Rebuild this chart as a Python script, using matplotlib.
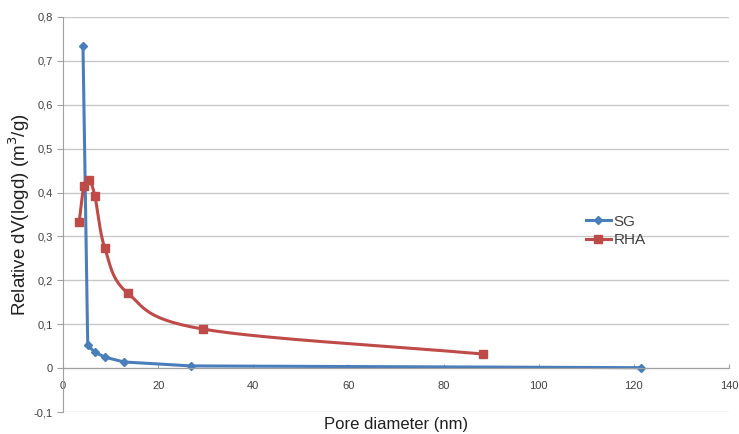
import numpy as np
import matplotlib.pyplot as plt

plt.rcParams['font.family'] = ['Liberation Sans', 'DejaVu Sans']

# values
sg_x = [4.2, 5.2, 6.7, 8.8, 12.8, 26.9, 121.5]
sg_y = [0.735, 0.052, 0.036, 0.025, 0.014, 0.005, 0.001]
rha_x = [3.4, 4.4, 5.5, 6.7, 8.8, 13.6, 29.4, 88.3]
rha_y = [0.333, 0.415, 0.428, 0.392, 0.273, 0.171, 0.089, 0.032]
y_ticks = [-0.1, 0, 0.1, 0.2, 0.3, 0.4, 0.5, 0.6, 0.7, 0.8]
x_ticks = [0, 20, 40, 60, 80, 100, 120, 140]


def smooth(x, y, n=30):
    # catmull-rom curve through the points, like excel's smoothed line
    x = np.asarray(x, float)
    y = np.asarray(y, float)
    px = np.concatenate([[2 * x[0] - x[1]], x, [2 * x[-1] - x[-2]]])
    py = np.concatenate([[2 * y[0] - y[1]], y, [2 * y[-1] - y[-2]]])
    ox, oy = [], []
    t = np.linspace(0, 1, n)
    for i in range(1, len(px) - 2):
        for p, o in ((px, ox), (py, oy)):
            p0, p1, p2, p3 = p[i - 1], p[i], p[i + 1], p[i + 2]
            m1 = (p2 - p0) / 6
            m2 = (p3 - p1) / 6
            c = ((1 - t) ** 3 * p1 + 3 * (1 - t) ** 2 * t * (p1 + m1)
                 + 3 * (1 - t) * t ** 2 * (p2 - m2) + t ** 3 * p2)
            o.extend(c)
    return ox, oy


blue = '#4a7ebb'
red = '#be4b48'

fig = plt.figure(figsize=(7.39, 4.34), dpi=100)
ax = fig.add_axes([63 / 739, 22 / 434, 666 / 739, 395 / 434])

ax.set_xlim(0, 140)
ax.set_ylim(-0.1, 0.8)
ax.set_yticks(y_ticks)
ax.set_yticklabels([('%.1f' % v).replace('.', ',') if v != 0 else '0' for v in y_ticks])
ax.set_xticks(x_ticks)
ax.yaxis.grid(True, color='#c8c8c8', lw=1)
ax.set_axisbelow(True)

for s in ['top', 'right']:
    ax.spines[s].set_visible(False)
ax.spines['bottom'].set_position(('data', 0))
ax.spines['bottom'].set_color('#a0a0a0')
ax.spines['left'].set_color('#a0a0a0')
ax.tick_params(axis='both', colors='#a0a0a0', labelcolor='#404040', labelsize=8, length=4)
ax.tick_params(axis='x', direction='in', length=3, pad=9)

# SG drops almost straight, so plain segments there
ax.plot(sg_x, sg_y, color=blue, lw=2.2, marker='D', ms=4)
lx, ly = smooth(rha_x, rha_y)
ax.plot(lx, ly, color=red, lw=2.2)
ax.plot(rha_x, rha_y, 's', color=red, ms=6)

h1, = ax.plot([], [], color=blue, lw=2.2, marker='D', ms=4)
h2, = ax.plot([], [], color=red, lw=2.2, marker='s', ms=6)
ax.legend([h1, h2], ['SG', 'RHA'], loc='center left', bbox_to_anchor=(0.765, 0.458),
          frameon=False, fontsize=11, handlelength=1.6, handletextpad=0.2,
          labelspacing=0.3, labelcolor='#404040')

ax.set_xlabel('Pore diameter (nm)', fontsize=12, color='#202020')
ax.xaxis.set_label_coords(0.5, -0.012)
ax.xaxis.label.set_va('top')
ax.set_ylabel('Relative dV(logd) (m$^3$/g)', fontsize=13.5, color='#202020')
ax.yaxis.set_label_coords(-0.065, 0.5)
ax.yaxis.label.set_va('center')

fig.savefig('out.png', dpi=100)
